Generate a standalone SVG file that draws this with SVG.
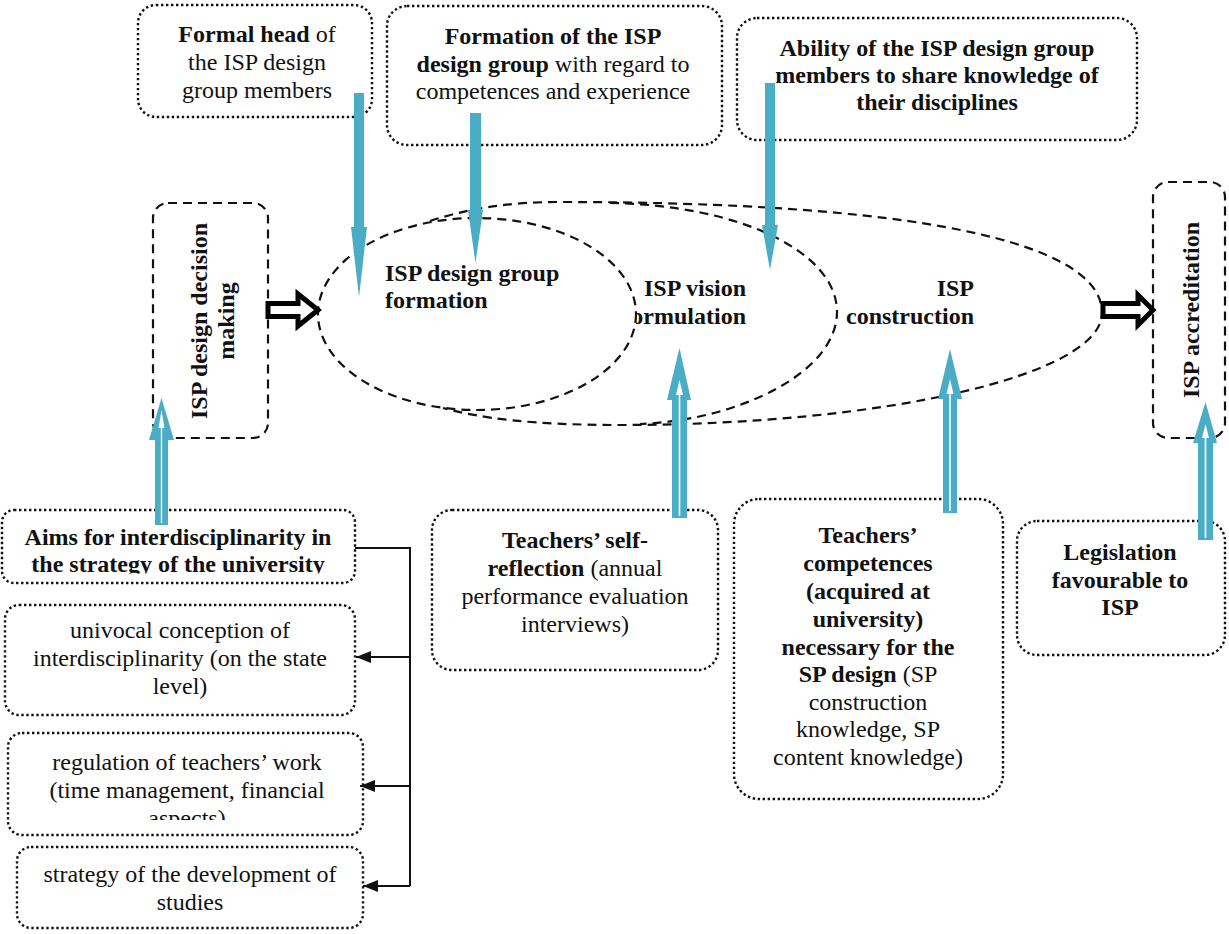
<svg xmlns="http://www.w3.org/2000/svg" width="1229" height="934" viewBox="0 0 1229 934">
  <defs>
    <style>
      text { font-family: "Liberation Serif", "Times New Roman", serif; font-size: 24px; fill: #111; }
      .c { text-anchor: middle; }
      .e { text-anchor: end; }
      .b { font-weight: bold; }
      .dot { fill: #fff; stroke: #111; stroke-width: 2.4; stroke-dasharray: 2.4 2.6; }
      .dash { fill: none; stroke: #111; stroke-width: 2.2; stroke-dasharray: 9 6; }
      .ell { fill: none; stroke: #111; stroke-width: 2.2; stroke-dasharray: 9 6; }
      .blue { fill: #4BACC6; }
      .inner { fill: #fff; }
      .block { fill: #fff; stroke: #000; stroke-width: 5; stroke-linejoin: miter; }
      .link { fill: none; stroke: #111; stroke-width: 2; }
    </style>
    <marker id="tri" markerWidth="16" markerHeight="12" refX="15" refY="6" orient="auto" markerUnits="userSpaceOnUse">
      <path d="M0,0 L15,6 L0,12 Z" fill="#111"/>
    </marker>
    <clipPath id="clipForm"><rect x="636" y="250" width="200" height="100"/></clipPath>
    <clipPath id="clipAims"><rect x="0" y="500" width="360" height="73.5"/></clipPath>
    <clipPath id="clipReg"><rect x="0" y="740" width="370" height="80"/></clipPath>
  </defs>

  <!-- process stages: nested outlines sharing the left arc of the inner one -->
  <g id="stages">
    <ellipse class="ell" cx="477" cy="314" rx="159" ry="96"/>
    <path class="ell" d="M430,221 C470,208 510,202 560,202 C912,202 1102,241 1102,313 C1102,375 885,425 620,425 C530,425 480,418 443,408"/>
    <path class="ell" d="M610,203 C740,205 837,252 837,312 C837,372 740,420 640,424"/>
  </g>
  <g id="stage-formation">
    <text class="b" x="385" y="281">ISP design group</text>
    <text class="b" x="385" y="308">formation</text>
  </g>
  <g id="stage-vision" clip-path="url(#clipForm)">
    <text class="b e" x="746" y="296">ISP vision</text>
    <text class="b e" x="746" y="324">formulation</text>
  </g>
  <g id="stage-construction">
    <text class="b e" x="974" y="296">ISP</text>
    <text class="b e" x="974" y="324">construction</text>
  </g>

  <!-- decision making -->
  <g id="decision">
    <rect class="dash" x="153" y="203" width="115" height="235" rx="15"/>
    <g transform="translate(207,321) rotate(-90)">
      <text class="b c" x="0" y="0">ISP design decision</text>
      <text class="b c" x="0" y="27">making</text>
    </g>
  </g>

  <!-- accreditation -->
  <g id="accreditation">
    <rect class="dash" x="1153" y="182" width="72" height="256" rx="15"/>
    <text class="b c" transform="translate(1199,310) rotate(-90)" x="0" y="0">ISP accreditation</text>
  </g>

  <!-- top factors -->
  <g id="formal-head">
    <rect class="dot" x="138" y="5" width="234" height="112" rx="18"/>
    <text class="c" x="257" y="42"><tspan class="b">Formal head</tspan> of</text>
    <text class="c" x="257" y="70">the ISP design</text>
    <text class="c" x="257" y="98">group members</text>
  </g>
  <g id="group-formation">
    <rect class="dot" x="387" y="6" width="335" height="139" rx="20"/>
    <text class="c b" x="553" y="44">Formation of the ISP</text>
    <text class="c" x="553" y="72"><tspan class="b">design group</tspan> with regard to</text>
    <text class="c" x="553" y="99">competences and experience</text>
  </g>
  <g id="sharing">
    <rect class="dot" x="737" y="18" width="400" height="122" rx="20"/>
    <text class="c b" x="937" y="56">Ability of the ISP design group</text>
    <text class="c b" x="937" y="83">members to share knowledge of</text>
    <text class="c b" x="937" y="110">their disciplines</text>
  </g>

  <!-- left column -->
  <g id="aims">
    <rect class="dot" x="2" y="510" width="353" height="73" rx="12"/>
    <g clip-path="url(#clipAims)">
      <text class="c b" x="178" y="545">Aims for interdisciplinarity in</text>
      <text class="c b" x="178" y="572">the strategy of the university</text>
    </g>
  </g>
  <g id="univocal">
    <rect class="dot" x="5" y="605" width="350" height="110" rx="14"/>
    <text class="c" x="180" y="638">univocal conception of</text>
    <text class="c" x="180" y="666">interdisciplinarity (on the state</text>
    <text class="c" x="180" y="694">level)</text>
  </g>
  <g id="regulation">
    <rect class="dot" x="8" y="733" width="355" height="102" rx="14"/>
    <g clip-path="url(#clipReg)">
      <text class="c" x="187" y="770">regulation of teachers’ work</text>
      <text class="c" x="187" y="798">(time management, financial</text>
      <text class="c" x="187" y="826">aspects)</text>
    </g>
  </g>
  <g id="development">
    <rect class="dot" x="17" y="847" width="346" height="81" rx="14"/>
    <text class="c" x="190" y="882">strategy of the development of</text>
    <text class="c" x="190" y="910">studies</text>
  </g>

  <!-- bottom factors -->
  <g id="self-reflection">
    <rect class="dot" x="432" y="510" width="286" height="160" rx="20"/>
    <text class="c b" x="575" y="548">Teachers’ self-</text>
    <text class="c" x="575" y="576"><tspan class="b">reflection</tspan> (annual</text>
    <text class="c" x="575" y="604">performance evaluation</text>
    <text class="c" x="575" y="632">interviews)</text>
  </g>
  <g id="competences">
    <rect class="dot" x="734" y="499" width="269" height="300" rx="25"/>
    <text class="c b" x="868" y="543">Teachers’</text>
    <text class="c b" x="868" y="571">competences</text>
    <text class="c b" x="868" y="599">(acquired at</text>
    <text class="c b" x="868" y="627">university)</text>
    <text class="c b" x="868" y="655">necessary for the</text>
    <text class="c" x="868" y="682"><tspan class="b">SP design</tspan> (SP</text>
    <text class="c" x="868" y="710">construction</text>
    <text class="c" x="868" y="737">knowledge, SP</text>
    <text class="c" x="868" y="765">content knowledge)</text>
  </g>
  <g id="legislation">
    <rect class="dot" x="1017" y="521" width="208" height="134" rx="20"/>
    <text class="c b" x="1120" y="560">Legislation</text>
    <text class="c b" x="1120" y="588">favourable to</text>
    <text class="c b" x="1120" y="615">ISP</text>
  </g>

  <!-- connectors -->
  <g id="connectors">
    <!-- process flow block arrows -->
    <polygon class="block" points="268,303.5 298,303.5 298,294 318,310 298,326 298,316.5 268,316.5"/>
    <polygon class="block" points="1103,303.5 1138,303.5 1138,295 1153,310 1138,325 1138,316.5 1103,316.5"/>

    <!-- influences from above -->
    <polygon class="blue" points="354,93 364,93 364,227 367,227 359,297 351,227 354,227"/>
    <polygon class="blue" points="470,113 481,113 481,210 483,210 475.5,263 468,210 470,210"/>
    <polygon class="blue" points="765,83 775,83 775,225 778,225 770,270 762,225 765,225"/>

    <!-- influences from below -->
    <polygon class="blue" points="155,525 168,525 168,440 174,440 161.5,398 149,440 155,440"/>
    <polygon class="inner" points="160.8,523 162.2,523 162.2,428 164.5,428 161.5,410 158.5,428 160.8,428"/>

    <polygon class="blue" points="672,518 687,518 687,400 691,400 679.5,348 667,400 672,400"/>
    <polygon class="inner" points="678.7,516 680.3,516 680.3,395 683,395 679.5,380 676,395 678.7,395"/>

    <polygon class="blue" points="943,513 957,513 957,399 962,399 950,349 938,399 943,399"/>
    <polygon class="inner" points="949.2,511 950.8,511 950.8,394 953.5,394 950,379 946.5,394 949.2,394"/>

    <polygon class="blue" points="1198,540 1213,540 1213,443 1217,443 1205.5,402 1193,443 1198,443"/>
    <polygon class="inner" points="1204.7,538 1206.3,538 1206.3,438 1209,438 1205.5,424 1202,438 1204.7,438"/>

    <!-- aims branching to its components -->
    <path class="link" d="M355,548 H410 V886"/>
    <line class="link" x1="410" y1="657" x2="356" y2="657" marker-end="url(#tri)"/>
    <line class="link" x1="410" y1="786" x2="360" y2="786" marker-end="url(#tri)"/>
    <line class="link" x1="410" y1="886" x2="363" y2="886" marker-end="url(#tri)"/>
  </g>
</svg>
